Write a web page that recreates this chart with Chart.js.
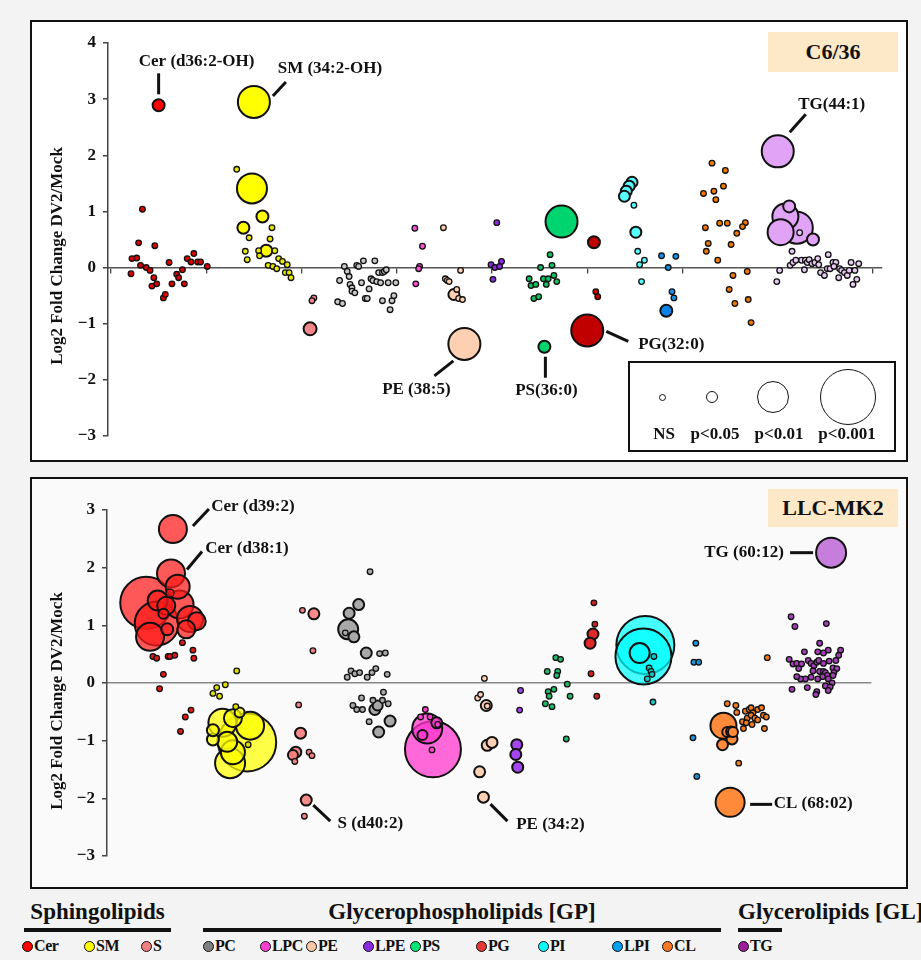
<!DOCTYPE html>
<html>
<head>
<meta charset="utf-8">
<script src="https://cdn.jsdelivr.net/npm/chart.js@4.4.1/dist/chart.umd.min.js"></script>
<style>
  body { margin: 0; background: #f3f3f3; font-family: "Liberation Serif", "Times New Roman", serif; font-weight: bold; color: #111; }
  #page { position: relative; width: 921px; height: 960px; overflow: hidden; }
  .frame { position: absolute; left: 30px; width: 878px; border: 2px solid #111; box-sizing: border-box; }
  .frame canvas { position: absolute; left: 0; top: 0; }
  .ytitle { position: absolute; font-size: 17px; white-space: nowrap; transform: translate(-50%, -50%) rotate(-90deg); }
  .badge { position: absolute; left: 736px; width: 130px; background: #fde9c8; font-size: 22px; text-align: center; }
  #sizes { position: absolute; left: 596px; top: 339px; width: 268px; height: 91px; border: 2px solid #111; box-sizing: border-box; }
  #sizes .c { position: absolute; border: 1.8px solid #111; border-radius: 50%; box-sizing: border-box; }
  #sizes .t { position: absolute; font-size: 17px; width: 70px; margin-left: -35px; text-align: center; top: 61px; }
  .grp { position: absolute; top: 899px; font-size: 23px; white-space: nowrap; }
  .bar { position: absolute; top: 928px; height: 4px; background: #111; }
  .item { position: absolute; top: 936px; font-size: 16px; white-space: nowrap; line-height: 20px; letter-spacing: -0.4px; }
  .item i { display: inline-block; width: 11px; height: 11px; border: 1.5px solid #111; border-radius: 50%; box-sizing: border-box; vertical-align: -1px; margin-right: 1px; }
</style>
</head>
<body>
<div id="page">
  <div class="frame" style="top:20px;height:442px;background:#fff;">
    <canvas id="top" width="874" height="438"></canvas>
    <div class="badge" style="top:10px;height:40px;line-height:40px;">C6/36</div>
    <div id="sizes">
      <div class="c" style="left:28.5px;top:30.5px;width:7px;height:7px;"></div>
      <div class="c" style="left:76px;top:28px;width:12px;height:12px;"></div>
      <div class="c" style="left:127px;top:18px;width:32px;height:32px;"></div>
      <div class="c" style="left:190px;top:6px;width:56px;height:56px;"></div>
      <div class="t" style="left:34px;">NS</div>
      <div class="t" style="left:85px;">p&lt;0.05</div>
      <div class="t" style="left:149px;">p&lt;0.01</div>
      <div class="t" style="left:217px;">p&lt;0.001</div>
    </div>
  </div>
  <div class="frame" style="top:477px;height:412px;background:#fafafa;">
    <canvas id="bottom" width="874" height="408"></canvas>
    <div class="badge" style="top:10px;height:38px;line-height:38px;">LLC-MK2</div>
  </div>
  <div class="ytitle" style="left:57px;top:256px;">Log2 Fold Change DV2/Mock</div>
  <div class="ytitle" style="left:57px;top:701px;">Log2 Fold Change DV2/Mock</div>
  <div id="legend"></div>
</div>
<script>
// lipid classes, in plotting order
const classes = ['Cer', 'SM', 'S', 'PC', 'LPC', 'PE', 'LPE', 'PS', 'PG', 'PI', 'LPI', 'CL', 'TG'];
const xTickValues = [0, 1, 2, 3, 4, 5, 6, 7, 8];
const topYTicks = [-3, 4];
const bottomYTicks = [-3, 3];

// [position, log2 fold change, bubble size]; size left out = not significant
const topCer = [[0.50,2.89,6],[0.33,1.04],[0.21,-0.11],[0.22,0.16],[0.27,0.17],[0.29,0.44],[0.31,0.04],[0.37,0.00],[0.41,-0.05],[0.43,-0.33],[0.45,-0.18],[0.46,0.39],[0.48,-0.29],[0.55,-0.54],[0.57,-0.48],[0.61,0.09],[0.64,-0.29],[0.69,-0.12],[0.71,-0.18],[0.75,-0.04],[0.77,-0.29],[0.80,0.16],[0.84,0.10],[0.87,0.25],[0.91,0.10],[0.94,0.10],[1.01,0.02]];
const topSM = [[1.50,2.95,16],[1.32,1.75],[1.48,1.41,15],[1.59,0.91,6],[1.39,0.71,6],[1.69,0.71],[1.45,0.53],[1.67,0.51],[1.41,0.29],[1.43,0.14],[1.63,0.30,6],[1.55,0.30],[1.56,0.21],[1.72,0.30],[1.65,0.04],[1.70,0.02],[1.74,-0.02],[1.76,0.16],[1.80,0.11],[1.85,0.05],[1.83,-0.09],[1.87,-0.09],[1.89,-0.18]];
const topS = [[2.09,-1.09,6.5],[2.13,-0.54],[2.11,-0.59]];
const topPC = [[2.45,0.02],[2.48,-0.07],[2.50,-0.16],[2.40,-0.23],[2.51,-0.30],[2.53,-0.36],[2.53,-0.42],[2.56,-0.45],[2.58,0.04],[2.60,0.02],[2.65,0.12],[2.63,-0.27],[2.71,-0.38],[2.67,-0.55],[2.69,-0.55],[2.73,-0.20],[2.75,-0.23],[2.77,0.12],[2.79,-0.25],[2.81,-0.09],[2.83,-0.27],[2.85,-0.09],[2.87,-0.07],[2.89,-0.04],[2.85,-0.59],[2.91,-0.27],[2.95,-0.59],[2.97,-0.50],[2.93,-0.75],[2.99,-0.27],[2.38,-0.61],[2.43,-0.64]];
const topLPC = [[3.19,0.70],[3.27,0.38],[3.24,0.02],[3.23,-0.02],[3.20,-0.29]];
const topPE = [[3.71,-1.36,16],[3.49,0.71],[3.51,-0.20],[3.53,-0.23],[3.55,-0.25],[3.60,-0.48,5.5],[3.63,-0.39],[3.65,-0.55],[3.69,-0.57],[3.67,-0.05]];
const topLPE = [[3.99,0.05],[4.03,0.00],[4.08,0.02],[4.10,0.11],[4.01,-0.21],[4.05,0.80]];
const topPS = [[4.73,0.82,16],[4.55,-1.41,6],[4.61,0.23],[4.63,0.04],[4.51,0.00],[4.39,-0.20],[4.41,-0.32],[4.46,-0.30],[4.54,-0.20],[4.59,-0.20],[4.57,-0.30],[4.65,-0.14],[4.68,-0.25],[4.44,-0.55],[4.49,-0.52]];
const topPG = [[5.00,-1.12,16],[5.07,0.45,6],[5.09,-0.43],[5.11,-0.52]];
const topPI = [[5.47,1.52,5.5],[5.44,1.45,5.5],[5.41,1.36,5.5],[5.39,1.27,5.5],[5.49,1.11],[5.51,0.63,5.5],[5.53,0.29],[5.60,0.13],[5.55,0.05],[5.57,-0.25]];
const topLPI = [[5.83,-0.77,6],[5.78,0.21],[5.93,0.20],[5.85,0.00],[5.89,-0.43],[5.91,-0.54]];
const topCL = [[6.31,1.86],[6.45,1.73],[6.43,1.45],[6.22,1.32],[6.33,1.36],[6.35,1.21],[6.24,0.71],[6.39,0.79],[6.47,0.79],[6.66,0.80],[6.63,0.73],[6.57,0.61],[6.27,0.43],[6.25,0.29],[6.51,0.41],[6.37,0.13],[6.68,-0.07],[6.53,-0.14],[6.49,-0.39],[6.69,-0.57],[6.55,-0.64],[6.72,-0.98]];
const topTG = [[7.00,2.07,16],[7.08,0.91,13],[7.03,0.63,13],[7.20,0.71,16],[7.12,1.09,6],[7.37,0.50,6],[7.23,0.62],[7.15,0.29],[7.02,-0.05],[6.99,-0.25],[7.13,0.04],[7.16,0.09],[7.19,0.13],[7.25,0.13],[7.28,-0.04],[7.29,0.13],[7.31,0.09],[7.33,0.14],[7.36,0.07],[7.39,0.09],[7.42,0.16],[7.43,0.05],[7.45,-0.09],[7.49,-0.14],[7.52,-0.02],[7.53,0.23],[7.55,-0.02],[7.58,0.09],[7.61,0.09],[7.59,0.02],[7.64,-0.18],[7.65,-0.02],[7.67,-0.05],[7.70,-0.09],[7.73,-0.14],[7.75,-0.05],[7.77,0.09],[7.81,-0.05],[7.85,0.07],[7.83,-0.21],[7.79,-0.30]];

const botCer = [[0.65,2.67,14],[0.63,1.90,14],[0.37,1.39,26],[0.48,1.03,22],[0.41,0.80,14],[0.70,1.67,12],[0.72,1.36,14],[0.49,1.43,10],[0.58,1.34,9],[0.83,1.11,13],[0.90,1.07,9],[0.79,0.93,9],[0.59,0.93,6],[0.55,1.20,5],[0.62,1.56,4],[0.44,0.46],[0.48,0.43],[0.60,0.46],[0.62,0.46],[0.67,0.48],[0.75,0.70],[0.86,0.57],[0.87,0.43],[0.55,0.15],[0.51,-0.10],[0.84,-0.47],[0.78,-0.59],[0.73,-0.84]];
const botSM = [[1.32,0.21],[1.11,-0.08],[1.20,-0.03],[1.07,-0.18],[1.14,-0.23],[1.31,-0.41],[1.44,-1.07],[1.43,-1.03,29],[1.46,-0.74,14],[1.17,-0.69,14],[1.25,-1.39,15],[1.28,-0.61,9],[1.35,-0.51,5],[1.07,-0.98,6],[1.07,-0.82,6],[1.22,-1.02,10],[1.28,-1.20,12]];
const botS = [[2.13,1.20,5.5],[2.01,1.26],[2.12,0.56],[1.97,-0.38],[1.99,-0.87,5.5],[1.94,-1.20,5.5],[1.91,-1.25,5],[1.93,-1.36],[2.08,-1.20],[2.11,-1.26],[2.05,-2.03,5.5],[2.03,-2.31]];
const botPC = [[2.49,0.93,10],[2.46,0.87],[2.50,1.21,5.5],[2.60,1.36,5.5],[2.55,0.80,5.5],[2.68,0.52,5.5],[2.72,1.93],[2.82,0.51],[2.88,0.52],[2.48,0.10],[2.52,0.21],[2.56,0.16],[2.61,0.18],[2.69,0.10],[2.74,0.18],[2.78,0.25],[2.90,0.15],[2.54,-0.39],[2.58,-0.46],[2.63,-0.26],[2.64,-0.46],[2.75,-0.30],[2.77,-0.46,5.5],[2.80,-0.39,5],[2.85,-0.30],[2.86,-0.16],[2.91,-0.36],[2.71,-0.67],[2.93,-0.66,5.5],[2.81,-0.85,5.5]];
const botLPC = [[3.38,-1.15,28],[3.32,-0.79,15],[3.27,-0.90,5],[3.42,-0.69,5.5],[3.43,-0.72],[3.30,-0.46],[3.25,-0.59],[3.35,-0.59],[3.37,-1.16]];
const botPE = [[3.85,-0.26],[3.88,-0.20],[3.94,-0.39,5.5],[3.95,-0.40],[3.95,-1.08,5.5],[4.00,-1.03,5.5],[3.87,-1.54,5.5],[3.91,-1.98,5.5],[3.92,0.08]];
const botLPE = [[4.30,-0.13],[4.29,-0.47],[4.26,-1.07,5.5],[4.25,-1.24,5.5],[4.27,-1.46,5.5]];
const botPS = [[4.67,0.44],[4.72,0.41],[4.58,0.20],[4.69,0.20],[4.68,0.13],[4.79,-0.02],[4.59,-0.15],[4.65,-0.11],[4.60,-0.23],[4.82,-0.23],[4.56,-0.36],[4.63,-0.41],[4.78,-0.97]];
const botPG = [[5.07,1.39],[5.08,1.02],[5.06,0.85,5.5],[5.03,0.69,5.5],[5.04,0.16],[5.10,-0.23]];
const botPI = [[5.61,0.66,29],[5.59,0.46,28],[5.55,0.52,10],[5.70,0.46],[5.65,0.26],[5.67,0.20],[5.68,0.15],[5.63,0.07],[5.69,-0.33]];
const botLPI = [[6.14,0.69],[6.12,0.36],[6.17,0.36],[6.11,-0.95],[6.15,-1.62]];
const botCL = [[6.50,-2.07,14.5],[6.43,-0.74,13],[6.47,-0.85,5],[6.51,-0.84,5],[6.53,-0.85,5],[6.42,-1.07,5.5],[6.52,-0.97,5.5],[6.89,0.44],[6.47,-0.36],[6.56,-0.39],[6.57,-0.51],[6.66,-0.49],[6.70,-0.46],[6.72,-0.43],[6.74,-0.52],[6.79,-0.46],[6.83,-0.43],[6.68,-0.61],[6.72,-0.56],[6.76,-0.61],[6.79,-0.64],[6.85,-0.56],[6.88,-0.59],[6.63,-0.67],[6.67,-0.69],[6.73,-0.72],[6.64,-0.79],[6.86,-0.79],[6.59,-1.39]];
const botTG = [[7.56,2.26,15],[7.14,1.15],[7.18,0.98],[7.51,1.03],[7.44,0.69],[7.28,0.54],[7.42,0.54],[7.48,0.52],[7.53,0.57],[7.66,0.57],[7.64,0.48],[7.61,0.39],[7.54,0.38],[7.12,0.41],[7.16,0.33],[7.20,0.34],[7.25,0.33],[7.22,0.25],[7.32,0.39],[7.35,0.34],[7.38,0.30],[7.41,0.36],[7.43,0.39],[7.48,0.34],[7.37,0.21],[7.44,0.20],[7.48,0.20],[7.50,0.18],[7.52,0.13],[7.47,0.11],[7.42,0.07],[7.35,0.10],[7.29,0.07],[7.24,0.07],[7.20,0.11],[7.58,0.26],[7.62,0.25],[7.59,0.18],[7.58,0.13],[7.53,0.07],[7.57,0.00],[7.50,-0.05],[7.55,-0.07],[7.53,-0.13],[7.41,-0.15],[7.40,-0.20],[7.31,-0.08],[7.15,-0.11]];

const topData = {Cer: topCer, SM: topSM, S: topS, PC: topPC, LPC: topLPC, PE: topPE, LPE: topLPE, PS: topPS, PG: topPG, PI: topPI, LPI: topLPI, CL: topCL, TG: topTG};
const botData = {Cer: botCer, SM: botSM, S: botS, PC: botPC, LPC: botLPC, PE: botPE, LPE: botLPE, PS: botPS, PG: botPG, PI: botPI, LPI: botLPI, CL: botCL, TG: botTG};

// colours: [big bubbles, small dots]
const topFill = {Cer:['#ff0000','#e00000'], SM:['#ffff00','#e8e800'], S:['#f4868a','#f4868a'], PC:['#c8c8c8','#c8c8c8'], LPC:['#ff4fd8','#ff4fd8'], PE:['#ffcfb2','#ffcfb2'], LPE:['#8a2be2','#8a2be2'], PS:['#00d46e','#10c060'], PG:['#c00000','#c00000'], PI:['#55ffff','#55ffff'], LPI:['#0a84e6','#1a90e8'], CL:['#ff8c00','#f07800'], TG:['#e0a3f5','#e8cbf2']};
const botFill = {Cer:['rgba(255,25,25,0.72)','#e01818'], SM:['rgba(255,255,0,0.72)','#e0e000'], S:['rgba(248,128,128,0.92)','#f08080'], PC:['#a8a8a8','#a8a8a8'], LPC:['rgba(255,55,205,0.75)','#ff40d0'], PE:['#fdd0b5','#fdd0b5'], LPE:['#a446f0','#a446f0'], PS:['#22b86a','#22b86a'], PG:['#e02828','#d02020'], PI:['rgba(0,255,255,0.72)','#10c8c8'], LPI:['#2090d8','#2090d8'], CL:['#ff8a3a','#f07c20'], TG:['#c77ddb','#a040b4']};
const legendFill = {Cer:'#ff0000', SM:'#ffff00', S:'#f08080', PC:'#808080', LPC:'#ff3fd0', PE:'#fcc8a8', LPE:'#8a2be2', PS:'#00e676', PG:'#e53935', PI:'#00ffff', LPI:'#00a0f0', CL:'#ff7722', TG:'#9c1f9c'};

const NS_R = 2.8;
const FONT = '"Liberation Serif", "Times New Roman", serif';

function toPoints(arr) {
  return arr.map(p => ({x: p[0], y: p[1], r: p[2] || NS_R})).sort((a, b) => b.r - a.r);
}

// labels with leader lines, offsets in px from the bubble centre
const topNotes = [
  {cls: 'Cer', i: 0, text: 'Cer (d36:2-OH)', line: [0, -32, 0, -11], at: [38, -44]},
  {cls: 'SM', i: 0, text: 'SM (34:2-OH)', line: [19, -6, 32, -20], at: [76, -33]},
  {cls: 'TG', i: 0, text: 'TG(44:1)', line: [12, -19, 28, -37], at: [54, -47]},
  {cls: 'PE', i: 0, text: 'PE (38:5)', line: [-11, 17, -30, 32], at: [-48, 46]},
  {cls: 'PS', i: 1, text: 'PS(36:0)', line: [1, 10, 1, 31], at: [2, 44]},
  {cls: 'PG', i: 0, text: 'PG(32:0)', line: [19, 1, 41, 11], at: [84, 14]}
];
const botNotes = [
  {cls: 'Cer', i: 0, text: 'Cer (d39:2)', line: [20, -3, 36, -20], at: [80, -22]},
  {cls: 'Cer', i: 1, text: 'Cer (d38:1)', line: [16, -4, 31, -22], at: [76, -25]},
  {cls: 'TG', i: 0, text: 'TG (60:12)', line: [-41, 0, -18, 0], at: [-87, 0]},
  {cls: 'S', i: 10, text: 'S (d40:2)', line: [7, 5, 24, 21], at: [64, 24]},
  {cls: 'PE', i: 7, text: 'PE (34:2)', line: [7, 7, 24, 24], at: [67, 27]},
  {cls: 'CL', i: 0, text: 'CL (68:02)', line: [20, 2, 42, 2], at: [83, 1]}
];

const notesPlugin = {
  id: 'notes',
  afterDatasetsDraw(chart, args, opts) {
    const {ctx, scales: {x, y}} = chart;
    ctx.save();
    ctx.font = 'bold 17px ' + FONT;
    ctx.fillStyle = '#111';
    ctx.strokeStyle = '#111';
    ctx.lineWidth = 3;
    ctx.textAlign = 'center';
    ctx.textBaseline = 'middle';
    opts.items.forEach(n => {
      const p = opts.data[n.cls][n.i];
      const px = x.getPixelForValue(p[0]);
      const py = y.getPixelForValue(p[1]);
      ctx.beginPath();
      ctx.moveTo(px + n.line[0], py + n.line[1]);
      ctx.lineTo(px + n.line[2], py + n.line[3]);
      ctx.stroke();
      ctx.fillText(n.text, px + n.at[0], py + n.at[1]);
    });
    ctx.restore();
  }
};

function makeChart(id, data, fill, yRange, xRange, pad, axisW, xTicks, zeroColor, notes) {
  const datasets = classes.map(c => ({
    label: c,
    data: toPoints(data[c]),
    backgroundColor: ctx => (ctx.raw && ctx.raw.r > NS_R ? fill[c][0] : fill[c][1]),
    borderColor: '#111',
    borderWidth: ctx => (ctx.raw && ctx.raw.r > 4 ? 2 : 1.3)
  }));
  return new Chart(document.getElementById(id), {
    type: 'bubble',
    data: {datasets},
    plugins: [notesPlugin],
    options: {
      responsive: false,
      animation: false,
      devicePixelRatio: 1,
      layout: {padding: pad},
      plugins: {
        legend: {display: false},
        tooltip: {enabled: false},
        notes: {items: notes, data}
      },
      scales: {
        x: {
          type: 'linear',
          min: xRange[0],
          max: xRange[1],
          position: {y: 0},
          afterBuildTicks: s => { s.ticks = xTicks.map(v => ({value: v})); },
          ticks: {display: false},
          grid: {display: xTicks.length > 0, drawOnChartArea: false, drawTicks: true, tickLength: 5, color: '#444', lineWidth: 1.3},
          border: {color: zeroColor, width: 1.5}
        },
        y: {
          min: yRange[0],
          max: yRange[1],
          afterFit: s => { s.width = axisW; },
          ticks: {
            stepSize: 1,
            padding: 7,
            color: '#111',
            font: {family: FONT, size: 17, weight: 'bold'},
            callback: v => (v < 0 ? '\u2212' + Math.abs(v) : String(v))
          },
          grid: {drawOnChartArea: false, drawTicks: true, tickLength: 5, color: '#444', lineWidth: 1.5},
          border: {color: '#444', width: 1.5}
        }
      }
    }
  });
}

makeChart('top', topData, topFill, topYTicks, [-0.0315, 8.0945],
  {top: 21, right: 24, bottom: 24, left: 0}, 76, xTickValues, '#555', topNotes);
makeChart('bottom', botData, botFill, bottomYTicks, [-0.042, 7.979],
  {top: 24, right: 35, bottom: 20, left: 0}, 75, [], '#888', botNotes);

// group legend under the panels
const groups = [
  {name: 'Sphingolipids', left: 24, width: 147, align: 'center'},
  {name: 'Glycerophospholipids [GP]', left: 203, width: 518, align: 'center'},
  {name: 'Glycerolipids [GL]', left: 738, width: 44, align: 'left'}
];
const legendX = {Cer: 28, SM: 90, S: 147, PC: 209, LPC: 266, PE: 312, LPE: 369, PS: 416, PG: 482, PI: 544, LPI: 618, CL: 668, TG: 744};
const lg = document.getElementById('legend');
groups.forEach(g => {
  const t = document.createElement('div');
  t.className = 'grp';
  t.style.left = g.left + 'px';
  if (g.align === 'center') { t.style.width = g.width + 'px'; t.style.textAlign = 'center'; }
  t.textContent = g.name;
  lg.appendChild(t);
  const b = document.createElement('div');
  b.className = 'bar';
  b.style.left = g.left + 'px';
  b.style.width = g.width + 'px';
  lg.appendChild(b);
});
classes.forEach(c => {
  const it = document.createElement('div');
  it.className = 'item';
  it.style.left = (legendX[c] - 6) + 'px';
  it.innerHTML = '<i style="background:' + legendFill[c] + '"></i>' + c;
  lg.appendChild(it);
});
</script>
</body>
</html>
